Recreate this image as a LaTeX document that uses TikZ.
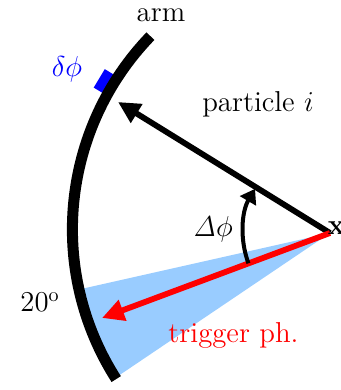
\documentclass[tikz,border=0pt]{standalone}
\usetikzlibrary{arrows.meta}
\definecolor{conecol}{RGB}{153,204,255}
\begin{document}
\begin{tikzpicture}[x=0.5pt,y=0.5pt,font=\Large,
  armline/.style={line width=5.5pt},
  vecarrow/.style={line width=2.9pt,-{Triangle[length=11pt,width=10.5pt]}},
  anglearrow/.style={line width=2pt,-{Triangle[length=7pt,width=9pt]}},
  lbl/.style={anchor=base,inner sep=0pt}]
\useasboundingbox (0,0) rectangle (341,390);
\coordinate (V) at (330,157);
\coordinate (O) at (350.4,160.7);
\coordinate (Tp) at (118,288);
\coordinate (Tr) at (102,72);
% 20 degree cone
\fill[conecol] (V) -- ([shift={(O)}]192.5:278) arc[start angle=192.5,end angle=212.3,radius=278] -- cycle;
% delta phi cell
\fill[blue,shift={(O)},rotate=149] (278,-10.75) rectangle (293,10.75);
% arm
\draw[armline] ([shift={(O)}]136:278) arc[start angle=136,end angle=212.6,radius=278];
% vectors
\draw[vecarrow,black] (V) -- (Tp);
\draw[vecarrow,red] (V) -- (Tr);
% Delta phi angle
\draw[anglearrow] ([shift={(V)}]200.4:87) arc[start angle=200.4,end angle=149.5,radius=87];
% labels
\node[lbl] (xmark) at (336.5,155) {\textbf{x}};
\node[lbl] (arm) at (161,368) {arm};
\node[lbl,text=blue] (dphi) at (67,313.5) {$\delta\phi$};
\node[lbl] (part) at (258,278) {particle $i$};
\node[lbl] (Dphi) at (213,153) {$\mathit{\Delta}\phi$};
\node[lbl] (deg) at (40,78.3) {20$^{\rm o}$};
\node[lbl,text=red] (trig) at (233.5,47) {trigger ph.};
\end{tikzpicture}
\end{document}
